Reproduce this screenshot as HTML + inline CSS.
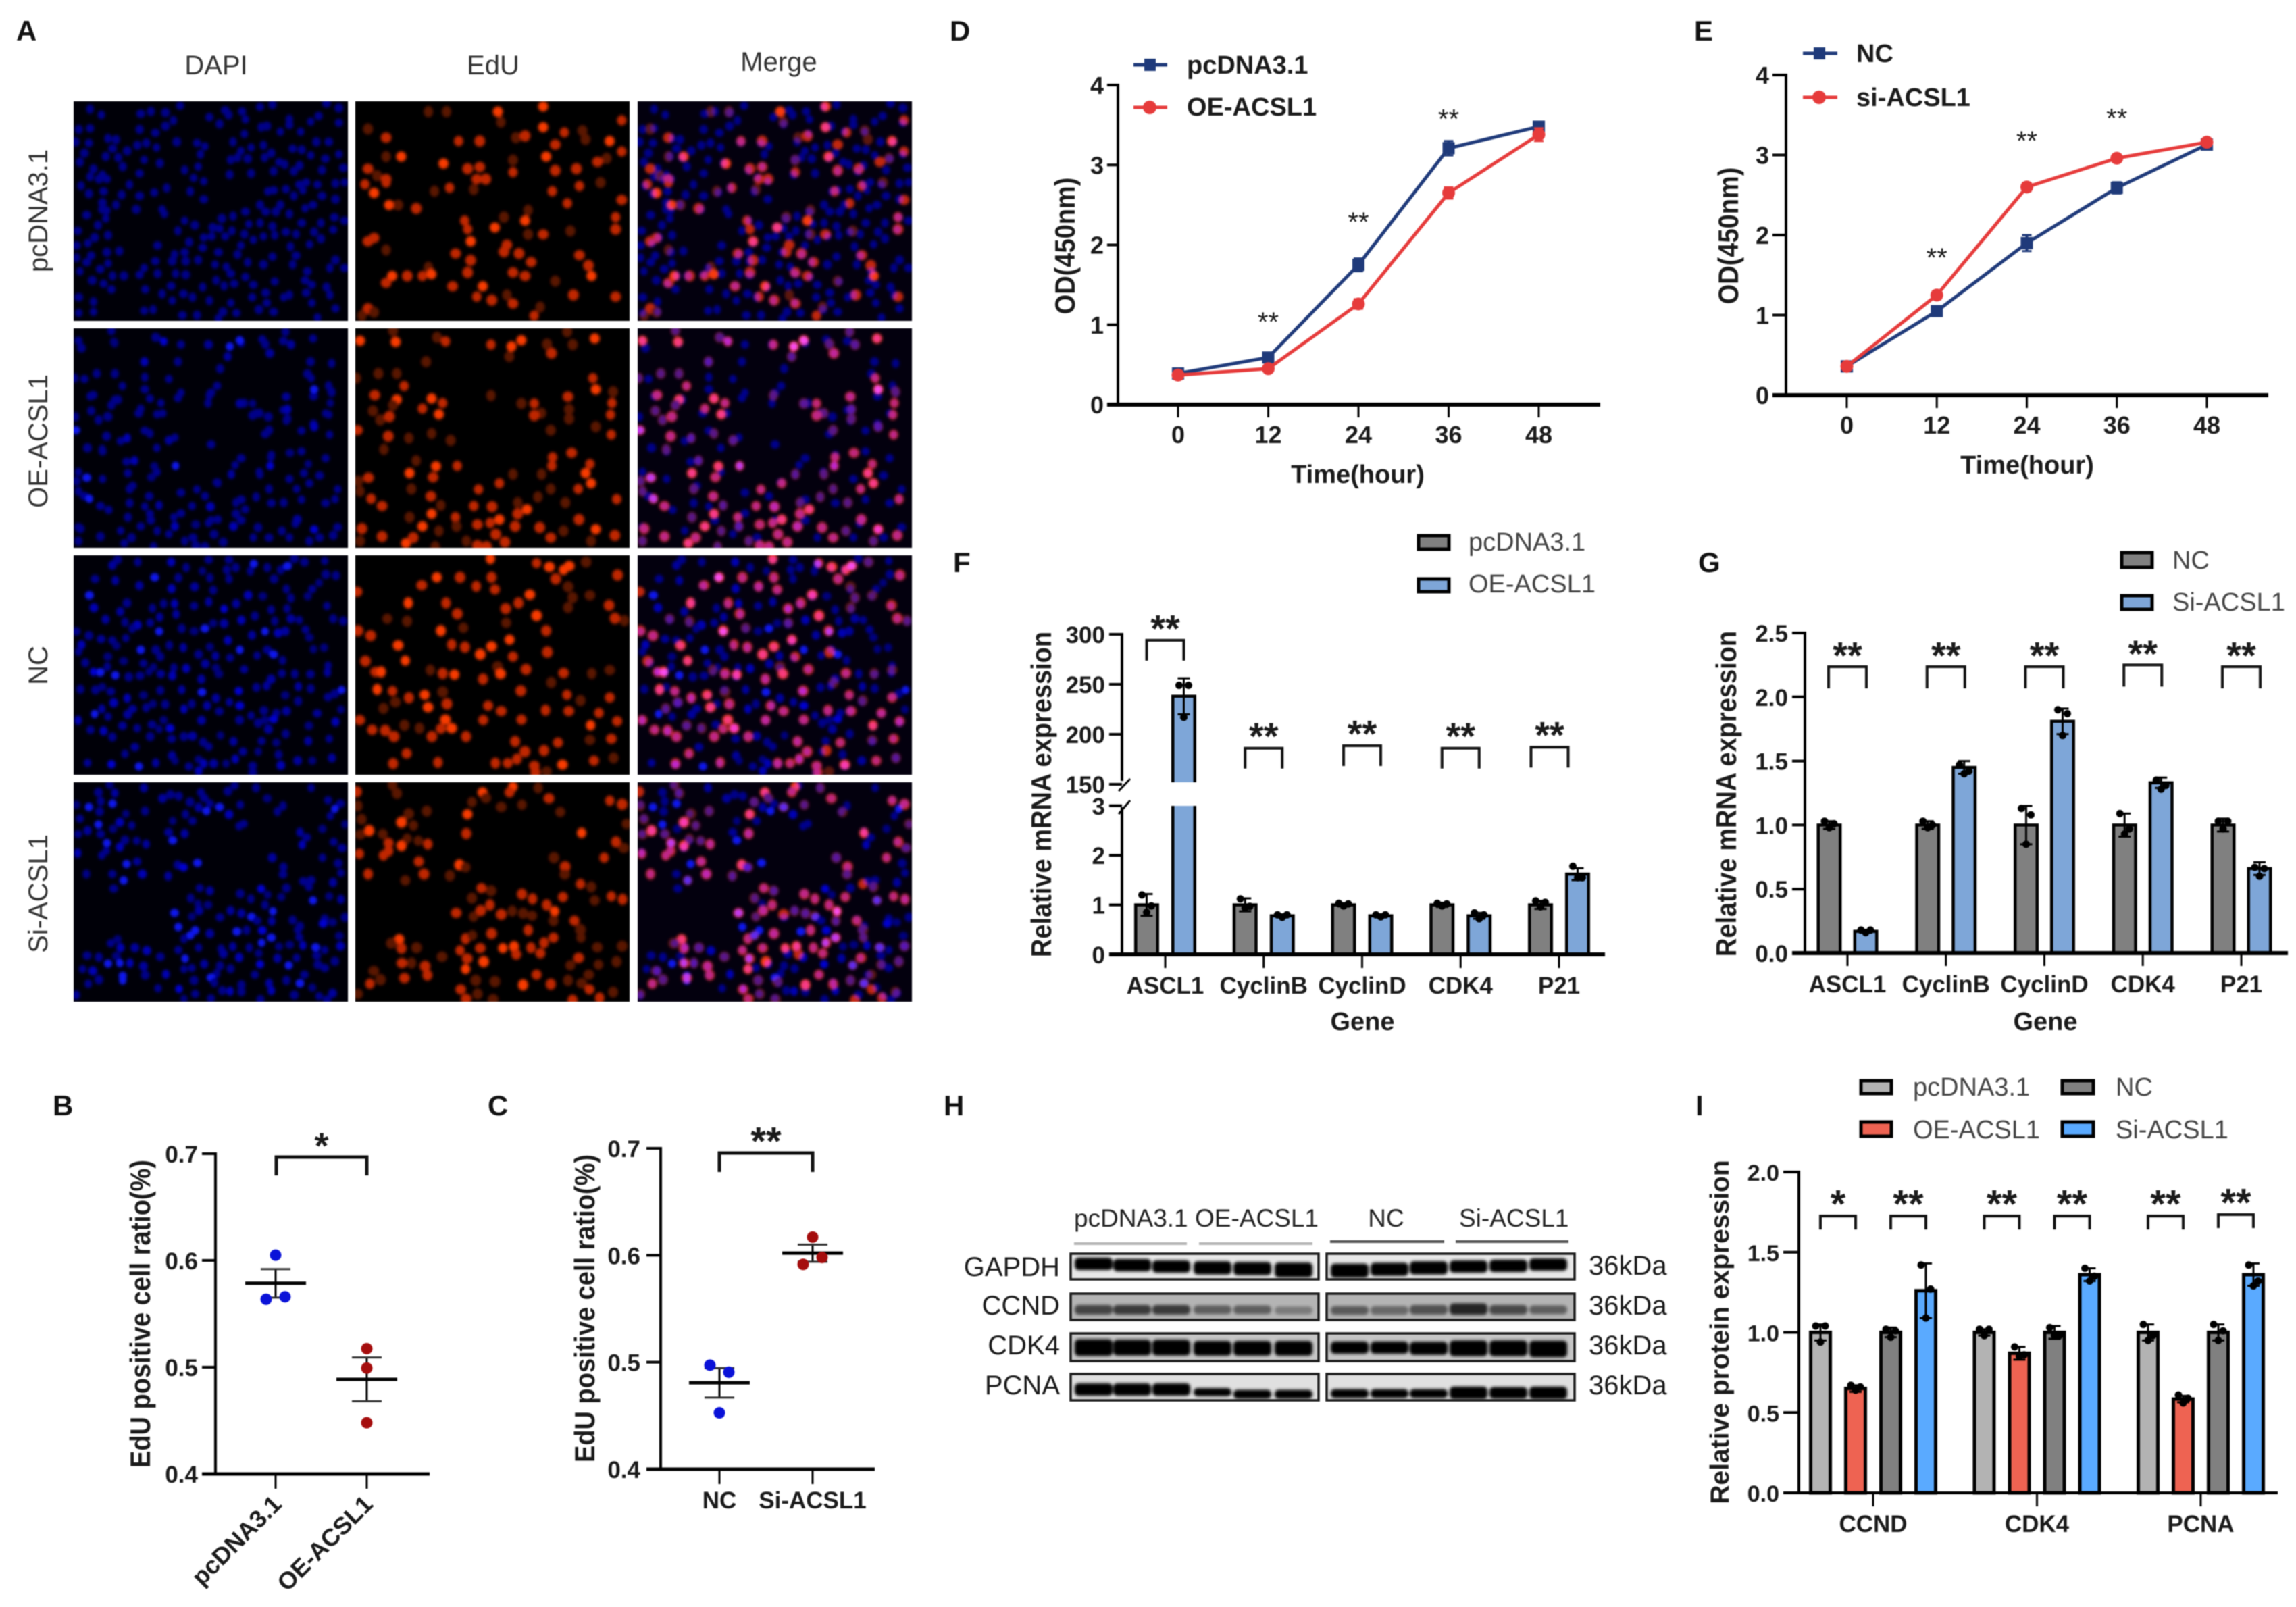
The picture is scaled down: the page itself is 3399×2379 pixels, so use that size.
<!DOCTYPE html>
<html lang="en">
<head>
<meta charset="utf-8">
<title>ACSL1 proliferation figure</title>
<style>
html,body{margin:0;padding:0;background:#fff;}
body{width:3399px;height:2379px;overflow:hidden;position:relative;}
svg{font-family:"Liberation Sans",sans-serif;}
#figure{position:absolute;left:0;top:0;filter:blur(0.9px);}
.letter{font-size:42px;font-weight:700;fill:#111;}
.head{font-size:40px;fill:#333;text-anchor:middle;}
.rowlab{font-size:40px;fill:#333;text-anchor:middle;}
.ytitle{font-size:38px;font-weight:700;fill:#1a1a1a;text-anchor:middle;}
.xtitle{font-size:38px;font-weight:700;fill:#1a1a1a;text-anchor:middle;}
.legb{font-size:38px;font-weight:700;fill:#1a1a1a;}
.legr{font-size:38px;fill:#444;}
.blot{font-size:40px;fill:#222;}
.blothead{font-size:37px;fill:#222;}
</style>
</head>
<body>
<svg id="figure" width="3399" height="2379" viewBox="0 0 3399 2379" xmlns="http://www.w3.org/2000/svg">
<defs>
<filter id="soft" x="-5%" y="-5%" width="110%" height="110%"><feGaussianBlur stdDeviation="2"/></filter>
<filter id="bandblur" x="-20%" y="-60%" width="140%" height="220%"><feGaussianBlur stdDeviation="2.2"/></filter>
</defs>
<rect width="3399" height="2379" fill="#fff"/>

<text class="letter" x="24" y="60">A</text>
<text class="letter" x="78" y="1651">B</text>
<text class="letter" x="722" y="1651">C</text>
<text class="letter" x="1406" y="60">D</text>
<text class="letter" x="2508" y="60">E</text>
<text class="letter" x="1411" y="847">F</text>
<text class="letter" x="2514" y="847">G</text>
<text class="letter" x="1397" y="1651">H</text>
<text class="letter" x="2510" y="1651">I</text>

<text class="head" x="320" y="110">DAPI</text>
<text class="head" x="730" y="110">EdU</text>
<text class="head" x="1153" y="105">Merge</text>
<text class="rowlab" transform="translate(70,312) rotate(-90)">pcDNA3.1</text>
<text class="rowlab" transform="translate(70,653) rotate(-90)">OE-ACSL1</text>
<text class="rowlab" transform="translate(70,985) rotate(-90)">NC</text>
<text class="rowlab" transform="translate(70,1323) rotate(-90)">Si-ACSL1</text>
<g id="micrographs"></g>

<!-- Panel titles -->
<text class="ytitle" transform="translate(222,1945) rotate(-90) scale(1,1.1)">EdU positive cell ratio(%)</text>
<text class="ytitle" transform="translate(880,1937) rotate(-90) scale(1,1.1)">EdU positive cell ratio(%)</text>
<text class="ytitle" transform="translate(1591,364) rotate(-90) scale(1,1.1)">OD(450nm)</text>
<text class="xtitle" x="2010" y="715">Time(hour)</text>
<text class="ytitle" transform="translate(2573,349) rotate(-90) scale(1,1.1)">OD(450nm)</text>
<text class="xtitle" x="3001" y="701">Time(hour)</text>
<text class="ytitle" transform="translate(1556,1176) rotate(-90) scale(1,1.1)">Relative mRNA expression</text>
<text class="xtitle" x="2017" y="1525">Gene</text>
<text class="ytitle" transform="translate(2570,1175) rotate(-90) scale(1,1.1)">Relative mRNA expression</text>
<text class="xtitle" x="3028" y="1525">Gene</text>
<text class="ytitle" style="font-size:39px" transform="translate(2559,1972) rotate(-90)">Relative protein expression</text>

<!-- Legend D -->
<g>
<line x1="1678" y1="96" x2="1728" y2="96" stroke="#1f3a7a" stroke-width="5"/>
<rect x="1694" y="87" width="17" height="18" fill="#1f3a7a"/>
<text class="legb" x="1757" y="109">pcDNA3.1</text>
<line x1="1678" y1="159" x2="1728" y2="159" stroke="#e63b3b" stroke-width="5"/>
<circle cx="1702" cy="159" r="10" fill="#e63b3b"/>
<text class="legb" x="1757" y="171">OE-ACSL1</text>
</g>
<!-- Legend E -->
<g>
<line x1="2669" y1="79" x2="2720" y2="79" stroke="#1f3a7a" stroke-width="5"/>
<rect x="2685" y="70" width="17" height="18" fill="#1f3a7a"/>
<text class="legb" x="2748" y="92">NC</text>
<line x1="2669" y1="144" x2="2720" y2="144" stroke="#e63b3b" stroke-width="5"/>
<circle cx="2693" cy="144" r="10" fill="#e63b3b"/>
<text class="legb" x="2748" y="157">si-ACSL1</text>
</g>
<!-- Legend F -->
<g>
<rect x="2100" y="793" width="45" height="20" fill="#808080" stroke="#000" stroke-width="5"/>
<text class="legr" x="2174" y="815">pcDNA3.1</text>
<rect x="2100" y="857" width="45" height="19" fill="#7ea6d8" stroke="#000" stroke-width="5"/>
<text class="legr" x="2174" y="877">OE-ACSL1</text>
</g>
<!-- Legend G -->
<g>
<rect x="3141" y="818" width="45" height="22" fill="#808080" stroke="#000" stroke-width="5"/>
<text class="legr" x="3216" y="842">NC</text>
<rect x="3141" y="882" width="45" height="20" fill="#7ea6d8" stroke="#000" stroke-width="5"/>
<text class="legr" x="3216" y="904">Si-ACSL1</text>
</g>
<!-- Legend I -->
<g>
<rect x="2755" y="1600" width="45" height="19" fill="#b3b3b3" stroke="#000" stroke-width="5"/>
<text class="legr" x="2832" y="1622">pcDNA3.1</text>
<rect x="2755" y="1661" width="45" height="21" fill="#ee6352" stroke="#000" stroke-width="5"/>
<text class="legr" x="2832" y="1685">OE-ACSL1</text>
<rect x="3053" y="1600" width="46" height="19" fill="#808080" stroke="#000" stroke-width="5"/>
<text class="legr" x="3132" y="1622">NC</text>
<rect x="3053" y="1661" width="46" height="21" fill="#5aaaff" stroke="#000" stroke-width="5"/>
<text class="legr" x="3132" y="1685">Si-ACSL1</text>
</g>

<!-- Panel H labels -->
<g>
<text class="blothead" x="1590" y="1816">pcDNA3.1</text>
<text class="blothead" x="1769" y="1816">OE-ACSL1</text>
<text class="blothead" x="2052" y="1816" text-anchor="middle">NC</text>
<text class="blothead" x="2160" y="1816">Si-ACSL1</text>
<line x1="1590" x2="1757" y1="1841" y2="1841" stroke="#b5b5b5" stroke-width="4"/>
<line x1="1775" x2="1943" y1="1841" y2="1841" stroke="#b5b5b5" stroke-width="4"/>
<line x1="1969" x2="2138" y1="1838" y2="1838" stroke="#555" stroke-width="4"/>
<line x1="2155" x2="2322" y1="1838" y2="1838" stroke="#555" stroke-width="4"/>
</g>
<g id="blots"></g>
<g id="charts"></g>
</svg>

<script>
/* ---------- chart data ---------- */
const panelBGroups = ['pcDNA3.1', 'OE-ACSL1'];
const panelBPoints = [[0.605, 0.5637, 0.566], [0.5174, 0.4992, 0.448]];
const panelBMeans = [0.5786, 0.4886];
const panelBSem = [0.0133, 0.0205];
const panelBTicks = [0.4, 0.5, 0.6, 0.7];
const panelBTickLabels = ['0.4', '0.5', '0.6', '0.7'];

const panelCGroups = ['NC', 'Si-ACSL1'];
const panelCPoints = [[0.4973, 0.4907, 0.4527], [0.617, 0.5915, 0.598]];
const panelCMeans = [0.4808, 0.602];
const panelCSem = [0.0138, 0.008];
const panelCTicks = [0.4, 0.5, 0.6, 0.7];
const panelCTickLabels = ['0.4', '0.5', '0.6', '0.7'];

const panelDHours = [0, 12, 24, 36, 48];
const panelDTicks = [0, 1, 2, 3, 4];
const panelDControl = [0.39, 0.59, 1.75, 3.21, 3.48];
const panelDTreated = [0.37, 0.45, 1.26, 2.65, 3.38];
const panelDControlErr = [0.06, 0.06, 0.08, 0.09, 0.06];
const panelDTreatedErr = [0.05, 0.04, 0.06, 0.07, 0.08];
const panelDStarHours = [12, 24, 36];
const panelDStarLevels = [1.12, 2.37, 3.66];

const panelEHours = [0, 12, 24, 36, 48];
const panelETicks = [0, 1, 2, 3, 4];
const panelEControl = [0.36, 1.05, 1.90, 2.59, 3.13];
const panelETreated = [0.36, 1.25, 2.60, 2.96, 3.16];
const panelEControlErr = [0.04, 0.06, 0.1, 0.07, 0.05];
const panelETreatedErr = [0.04, 0.05, 0.05, 0.04, 0.04];
const panelEStarHours = [12, 24, 36];
const panelEStarLevels = [1.8, 3.26, 3.54];

const panelFGenes = ['ASCL1', 'CyclinB', 'CyclinD', 'CDK4', 'P21'];
const panelFTicksLow = [0, 1, 2, 3];
const panelFTicksHigh = [150, 200, 250, 300];
const panelFControl = [1, 1, 1, 1, 1];
const panelFTreated = [238, 0.78, 0.78, 0.78, 1.62];
const panelFControlErr = [0.22, 0.13, 0.03, 0.04, 0.08];
const panelFTreatedErr = [18, 0.03, 0.03, 0.06, 0.12];
const panelFControlDots = [[1.2, 0.98, 0.85], [1.12, 0.97, 0.94], [1.03, 1.02, 0.98], [1.03, 1.02, 0.98], [1.08, 1.05, 0.96]];
const panelFTreatedDots = [[249, 249, 217], [0.8, 0.8, 0.75], [0.8, 0.8, 0.76], [0.84, 0.8, 0.72], [1.78, 1.55, 1.55]];
const panelFBracketLevels = [294, 186, 188.5, 186, 187];

const panelGGenes = ['ASCL1', 'CyclinB', 'CyclinD', 'CDK4', 'P21'];
const panelGTicks = [0, 0.5, 1, 1.5, 2, 2.5];
const panelGTickLabels = ['0.0', '0.5', '1.0', '1.5', '2.0', '2.5'];
const panelGControl = [1, 1, 1, 1, 1];
const panelGTreated = [0.17, 1.45, 1.81, 1.33, 0.66];
const panelGControlErr = [0.03, 0.03, 0.15, 0.09, 0.05];
const panelGTreatedErr = [0.01, 0.05, 0.1, 0.04, 0.05];
const panelGControlDots = [[1.03, 1.01, 0.98], [1.03, 1.0, 0.98], [1.13, 1.08, 0.85], [1.09, 0.97, 0.93], [1.03, 1.03, 0.97]];
const panelGTreatedDots = [[0.18, 0.18, 0.16], [1.47, 1.42, 1.4], [1.9, 1.87, 1.7], [1.35, 1.31, 1.28], [0.67, 0.66, 0.6]];
const panelGBracketLevels = [2.236, 2.236, 2.236, 2.25, 2.236];

const panelIProteins = ['CCND', 'CDK4', 'PCNA'];
const panelITicks = [0, 0.5, 1, 1.5, 2];
const panelITickLabels = ['0.0', '0.5', '1.0', '1.5', '2.0'];
const panelIControlA = [1, 1, 1];
const panelITreatedA = [0.65, 0.87, 0.585];
const panelIControlB = [1, 1, 1];
const panelITreatedB = [1.26, 1.36, 1.36];
const panelIControlAErr = [0.05, 0.02, 0.05];
const panelITreatedAErr = [0.02, 0.04, 0.02];
const panelIControlBErr = [0.03, 0.04, 0.05];
const panelITreatedBErr = [0.17, 0.04, 0.07];
const panelIControlADots = [[1.04, 1.04, 0.94], [1.02, 1.02, 0.98], [1.05, 0.98, 0.95]];
const panelITreatedADots = [[0.67, 0.66, 0.64], [0.91, 0.86, 0.85], [0.61, 0.59, 0.56]];
const panelIControlBDots = [[1.02, 1.01, 0.97], [1.03, 0.98, 0.98], [1.05, 1.01, 0.95]];
const panelITreatedBDots = [[1.42, 1.27, 1.09], [1.4, 1.35, 1.32], [1.42, 1.32, 1.29]];
const panelIBracketLevels = [1.726, 1.726, 1.726, 1.726, 1.726, 1.735];
const panelIStars = ['*', '**', '**', '**', '**', '**'];

const row1Red = "710,325 740,325 825,325 830,355 900,310 1030,350 610,375 640,400 760,410 795,410 855,400 870,395 900,370 935,385 965,380 970,405 1010,410 920,420 665,455 640,455 850,465 905,455 1030,440 1005,460 990,470 735,475 775,490 795,485 790,520 805,520 850,500 920,495 955,490 995,530 610,490 625,510 640,520 605,535 620,560 640,530 745,545 720,555 785,550 915,555 940,590 960,540 1030,580 645,595 660,595 690,605 875,610 835,630 770,640 870,640 820,660 775,665 875,680 900,680 945,670 1020,630 1020,665 620,690 610,700 780,700 840,710 835,730 860,735 880,760 960,740 755,735 640,725 780,755 850,790 870,800 980,800 975,770 650,800 675,800 710,775 715,795 700,800 640,820 775,790 750,830 800,830 790,860 815,870 840,855 850,880 895,890 885,915 920,815 1020,860 950,855 610,895 620,905 600,915";
const row1Blue = "100,65 150,90 325,85 370,75 435,80 470,115 500,50 630,100 675,130 700,70 715,90 775,75 790,110 855,55 910,45 1150,40 1205,60 985,110 1115,95 1080,120 1205,125 50,155 100,150 320,155 435,140 860,145 885,140 785,175 945,165 985,135 1035,165 390,170 215,200 95,215 35,210 180,195 485,210 575,215 610,230 735,210 350,215 310,225 395,235 1160,210 1105,210 200,240 265,250 75,260 590,265 770,250 815,235 870,225 1000,240 1040,245 755,280 225,280 170,275 340,290 725,290 800,285 875,280 905,260 1145,285 1205,265 1080,270 55,300 410,305 245,320 940,300 965,310 1030,315 1005,340 580,320 520,335 720,355 815,350 915,340 1130,335 115,330 1225,325 320,350 560,370 605,385 100,365 140,375 175,375 155,355 60,405 275,400 440,415 1030,400 1060,390 1190,395 1230,390 160,430 95,440 240,445 320,450 385,435 545,430 890,430 915,425 970,420 1045,425 1110,400 605,465 1005,450 1130,450 1190,465 155,480 215,490 855,490 945,490 1090,490 1055,505 155,510 305,510 420,510 430,530 175,515 170,550 880,520 925,520 985,530 85,535 790,520 735,540 685,550 520,560 1185,545 565,580 1040,570 1125,570 1230,560 855,570 805,575 645,590 490,605 910,585 135,580 45,605 1180,600 675,595 730,605 970,610 1015,620 1095,610 605,635 640,630 700,630 785,620 870,630 920,625 180,625 120,635 90,660 40,670 540,655 825,645 1075,665 1125,640 600,680 770,670 400,670 990,675 230,695 175,700 520,700 475,710 670,700 755,710 910,720 1015,715 105,715 40,725 85,745 180,750 525,740 390,740 465,740 580,735 800,745 655,755 870,755 1000,755 1190,735 1165,770 1230,770 55,785 145,775 340,770 705,765 200,805 250,805 320,800 400,795 480,795 525,800 725,795 790,810 1065,785 110,825 160,840 660,825 920,830 1055,825 1150,855 195,865 345,865 460,850 600,855 695,850 740,840 825,845 1085,845 880,880 515,885 985,890 960,900 420,885 1060,880 1165,890 50,900 465,915 555,900 630,915 725,925 820,900 885,925 115,920 1085,925 340,960 380,955 115,965 50,970 510,980 575,980 690,965 750,970 915,965 1110,990 1190,950 850,955 670,995";
const row2Red = "115,60 122,110 235,90 258,108 382,122 438,130 465,103 432,175 547,160 535,120 605,122 590,65 665,95 25,105 205,198 75,250 125,250 145,305 15,270 660,270 668,320 715,330 65,345 125,365 115,390 60,415 80,455 105,440 220,360 250,380 195,405 240,430 382,347 465,382 500,382 520,425 500,435 592,352 595,408 595,450 712,380 708,432 668,485 545,500 710,520 18,500 102,527 158,535 220,515 272,545 90,585 602,600 550,620 548,658 652,650 640,690 655,735 178,635 232,660 290,658 160,690 224,708 442,695 520,695 20,725 48,710 405,735 165,760 348,762 545,760 510,795 620,760 25,770 55,803 218,792 245,832 85,835 335,835 385,838 455,820 480,850 585,820 725,805 220,870 160,885 285,885 455,870 622,895 405,895 288,925 345,917 380,910 448,925 195,925 515,930 580,945 668,938 30,935 240,945 395,960 85,970 150,1000 170,975 545,975 720,965 25,990 315,990 345,1010 420,995 655,990 230,1015 370,1015";
const row2Blue = "260,980 300,1000 345,1000 400,995 435,985 470,990 515,1050 550,1055 135,1010 190,995 140,1100 190,1085 240,1095 295,1050 365,1070 510,1085 545,1120 125,1210 150,1150 195,1160 240,1130 280,1100 300,1140 295,1155 350,1140 345,1170 360,1120 405,1170 425,1200 445,1210 470,1190 475,1220 520,1150 550,1140 540,1200 520,1230 180,1210 230,1200 270,1200 290,1270 240,1250 145,1300 170,1310 200,1280 400,1330 450,1320 500,1310 540,1330 350,1290 390,1350 430,1370 360,1400 480,1390 530,1380 170,1390 220,1410 300,1430 260,1370 215,1460 140,1440 180,1480 250,1510 300,1490 340,1440 400,1450 450,1460 500,1450 540,1460 560,1420 130,1530 200,1540 280,1550 350,1510 420,1560 490,1520 530,1560 560,1530 480,1560 400,1510 320,1560 240,1470 130,1370 210,1340 440,1260 500,1250 260,1300";
const row3Red = "600,15,3 805,35,2 862,52,3 925,65,3 950,48,3 890,105,2 1025,30,1 1165,88,2 362,98,3 465,98,2 295,133,2 537,138,2 605,98,2 620,152,2 8,162,2 775,175,3 725,212,2 668,237,2 1042,178,1 945,140,1 965,188,1 945,232,1 1127,222,2 1153,280,2 1195,290,1 235,212,3 403,212,2 453,260,2 142,282,1 230,293,1 805,268,3 670,300,1 380,335,3 480,322,1 848,335,2 12,335,2 68,357,2 685,375,3 190,400,3 428,397,2 487,408,2 605,405,3 555,440,3 853,430,2 700,450,2 222,468,3 45,470,2 90,518,2 115,518,3 333,510,1 388,525,2 440,530,3 758,507,2 632,495,1 645,527,3 567,550,2 925,523,2 1130,510,1 1050,525,1 870,565,1 97,596,3 165,603,2 735,602,2 238,633,2 308,620,3 388,607,1 940,620,2 1000,645,1 1130,632,2 178,652,1 407,660,2 323,675,3 125,680,1 590,668,2 648,692,2 845,688,2 948,692,2 1082,700,2 20,732,2 400,730,3 568,732,2 738,730,2 1045,755,3 1163,737,2 218,755,1 75,775,2 133,778,2 285,768,1 380,770,2 428,768,3 172,805,2 340,805,2 492,805,2 710,827,2 900,832,2 1042,820,1 1137,815,2 838,867,2 753,872,2 228,880,2 168,925,2 367,920,2 622,923,2 677,923,2 718,905,2 795,935,2 920,930,3 1060,912,2 1147,900,1 800,965,2 850,960,1";
const row3Blue = "195,20 285,30 172,45 433,30 500,55 572,70 600,20 690,20 680,65 720,55 800,38 860,55 785,70 920,65 950,48 1025,30 980,15 1120,85 1165,90 1115,25 95,105 185,112 360,98 465,100 605,100 690,105 890,105 292,135 435,148 537,140 620,155 70,178 775,178 840,182 945,150 1060,150 1040,182 1090,122 965,190 237,212 400,215 448,215 535,225 600,207 722,215 90,233 350,235 668,238 877,242 948,237 1125,225 207,250 455,262 382,275 142,285 745,288 805,270 965,282 1002,288 893,292 1153,282 1197,292 228,297 283,310 260,325 340,300 620,302 668,303 480,325 535,337 583,325 380,338 12,338 850,338 792,355 908,345 940,337 1030,330 68,357 122,372 172,378 232,368 1047,365 685,378 35,398 190,402 22,428 425,400 487,410 605,407 298,420 365,420 385,450 555,440 630,447 738,420 695,455 815,445 860,420 888,440 1065,417 1112,410 152,450 222,470 52,477 928,467 310,480 585,482 150,495 118,520 88,518 1130,490 355,497 335,517 445,500 500,503 632,500 757,507 185,533 245,540 295,535 387,527 438,535 645,527 925,525 982,527 1052,528 1127,520 567,550 877,550 30,595 97,598 127,585 165,605 385,600 480,597 570,608 733,603 812,587 857,580 998,583 1053,592 1190,598 310,622 238,635 940,622 632,635 1130,630 1160,615 178,655 352,660 407,662 525,660 692,652 738,668 997,648 322,677 490,683 593,668 125,682 262,682 647,693 845,690 945,692 1082,702 1187,685 93,705 240,707 153,717 400,732 788,712 900,700 20,733 217,757 348,752 568,733 737,732 850,732 888,728 820,745 1045,757 1163,740 75,775 133,780 282,768 380,772 428,768 865,772 652,800 172,807 340,805 435,815 490,805 528,803 942,793 710,827 575,830 600,850 835,825 900,832 1042,825 1135,815 272,852 820,872 752,872 228,882 437,890 910,885 450,912 62,922 168,928 290,938 365,922 555,907 578,925 512,938 622,925 677,925 718,905 795,935 920,933 995,912 1060,912 1147,900 555,958 795,965";
const row4Red = "165,12,1 7,42,2 185,50,1 565,45,3 700,20,3 685,45,2 812,25,1 580,70,1 860,72,2 12,105,1 518,88,1 648,110,1 1130,82,2 1185,98,2 740,100,1 910,132,1 237,140,1 317,128,1 498,142,3 28,165,1 205,178,3 258,192,1 1205,185,1 62,215,3 122,230,1 22,232,1 493,228,2 1005,225,3 148,270,2 205,282,3 230,250,1 280,260,1 322,275,2 1158,265,2 1192,292,1 18,318,2 148,305,2 125,325,2 882,335,1 1105,335,2 282,352,2 462,367,3 490,378,1 932,375,2 57,408,2 305,408,2 420,415,1 930,410,1 222,436,1 1000,452,2 1048,465,1 560,470,2 603,482,1 740,497,2 787,518,2 922,510,2 518,515,1 1137,507,2 1187,520,2 1063,525,1 598,545,2 850,545,2 885,573,3 557,570,2 448,580,2 648,587,2 697,572,1 745,582,1 785,593,1 525,597,1 880,615,1 973,615,2 768,657,2 1000,655,1 605,672,2 195,697,3 490,695,2 520,680,1 880,690,2 1002,690,1 838,713,2 160,715,1 205,738,2 272,735,1 465,747,2 555,737,2 655,737,3 705,730,3 780,735,2 822,760,2 1075,733,1 1185,728,1 715,765,2 385,775,1 992,780,2 497,783,2 207,803,2 250,803,1 570,797,3 1080,810,1 1160,797,1 310,817,2 955,813,1 490,830,3 82,838,1 1037,855,1 218,870,2 320,857,2 805,855,2 112,877,1 535,880,1 620,885,1 65,895,2 745,900,3 868,897,2 945,880,1 1005,893,1 1040,920,2 468,920,2 543,940,1 1145,932,1 12,940,1 492,962,2 1085,958,2 965,968,2 612,965,1";
const row4Blue = "160,12 312,25 110,45 183,48 395,72 430,55 467,62 565,45 580,70 685,40 715,15 810,25 1055,25 860,72 120,85 173,95 517,88 605,95 648,110 555,112 590,128 740,100 930,105 1130,80 1185,95 1160,118 68,110 12,100 115,130 232,140 317,128 497,142 690,143 905,130 1140,150 28,162 440,172 205,178 528,172 110,188 258,192 1205,187 735,195 755,185 175,207 62,215 20,230 422,222 120,230 493,228 1005,222 1105,207 1035,245 440,258 228,257 148,270 280,260 322,275 205,288 1015,278 1155,265 1192,292 18,315 145,305 125,325 882,335 1105,335 235,363 282,352 462,367 488,378 550,358 1175,360 932,377 57,408 172,408 305,408 420,417 1187,403 930,410 222,436 1020,440 1055,435 1152,445 178,472 560,470 605,482 945,470 1045,465 833,473 862,500 740,495 787,518 520,515 922,510 1135,507 1187,520 1063,525 552,540 597,545 850,545 697,570 557,570 448,580 745,582 885,573 525,597 650,600 790,598 815,615 1115,605 1205,600 973,612 1108,628 1150,622 880,617 465,643 1005,640 540,658 768,657 725,663 838,658 605,672 518,680 490,695 995,655 878,690 1180,682 1002,688 195,697 165,715 835,713 208,735 272,735 325,748 465,745 555,735 655,740 707,730 780,735 912,730 960,722 1018,725 1075,733 1185,728 60,770 112,777 190,772 385,775 822,760 1115,745 495,783 735,778 665,762 990,780 1080,770 905,782 205,803 250,803 153,805 580,807 1160,795 310,817 650,815 828,808 955,813 1085,810 40,830 85,838 490,830 525,825 697,828 1115,825 218,860 318,857 410,853 805,855 635,850 1025,855 112,877 535,880 610,868 625,890 945,880 65,895 745,900 868,893 1005,893 218,880 375,915 468,918 878,925 660,925 695,928 745,930 1060,912 980,945 540,940 1090,950 1150,937 490,962 610,960 830,965 12,945 1125,965";

/* ---------- helpers ---------- */
const NS = 'http://www.w3.org/2000/svg';
function mk(tag, attrs, parent) {
  const n = document.createElementNS(NS, tag);
  for (const k in attrs) n.setAttribute(k, attrs[k]);
  parent.appendChild(n);
  return n;
}
function addGroup(parent, name) {
  const g = mk('g', {}, parent);
  
  
  return g;
}
function addLine(parent, name, x1, y1, x2, y2, w, color) {
  const l = mk('line', {x1: x1, y1: y1, x2: x2, y2: y2, stroke: color || '#000', 'stroke-width': w}, parent);
  
  
  return l;
}
function addText(parent, name, str, x, y, size, anchor, weight, extra) {
  const t = mk('text', {x: x, y: y, 'font-size': size, 'text-anchor': anchor || 'middle', 'font-weight': weight || 700, fill: '#1a1a1a'}, parent);
  if (extra) t.setAttribute('transform', extra);
  
  
  t.textContent = str;
  return t;
}
function linear(d0, d1, r0, r1) { return v => r0 + (v - d0) / (d1 - d0) * (r1 - r0); }
function addStars(parent, str, cx, cy, size, weight) {
  return addText(parent, 'significance-stars', str, cx, cy + size * 0.58, size, 'middle', weight || 700);
}
function addBracket(parent, x1, x2, top, leg, w) {
  const p = mk('path', {d: 'M' + x1 + ' ' + (top + leg) + 'V' + top + 'H' + x2 + 'V' + (top + leg), fill: 'none', stroke: '#111', 'stroke-width': w}, parent);
  
  
}
function drawYTicks(g, axisX, tickLeft, labelRight, yFn, ticks, labels, size, base) {
  ticks.forEach((v, i) => {
    addLine(g, 'y-axis-tick', tickLeft, yFn(v), axisX, yFn(v), 4);
    addText(g, 'y-tick-label', labels[i], labelRight, yFn(v) + base, size, 'end');
  });
}

/* ---------- scatter panels B, C ---------- */
function drawScatter(g, o) {
  const y = linear(0.4, 0.7, o.y0, o.y1);
  addLine(g, 'y-axis', o.axisX, y(0.7) - 2, o.axisX, y(0.4) + 2, 4);
  addLine(g, 'x-axis', o.tickLeft, y(0.4), o.axisEnd, y(0.4), 5);
  drawYTicks(g, o.axisX, o.tickLeft, o.labelRight, y, o.ticks, o.tickLabels, 35, 13);
  o.groups.forEach((name, i) => {
    const x = o.xs0 + i * o.xStep;
    addLine(g, 'x-axis-tick', x, y(0.4), x, y(0.4) + 22, 3);
    if (o.rotate) addText(g, 'x-tick-label', name, x + 11, o.labelY, 36, 'end', 700, 'rotate(-45 ' + (x + 11) + ' ' + o.labelY + ')');
    else addText(g, 'x-tick-label', name, x, o.labelY, 35);
    addLine(g, 'mean-line', x - 45, y(o.means[i]), x + 45, y(o.means[i]), 5);
    addLine(g, 'sem-whisker', x, y(o.means[i] + o.sem[i]), x, y(o.means[i] - o.sem[i]), 3);
    addLine(g, 'sem-cap-top', x - 22, y(o.means[i] + o.sem[i]), x + 22, y(o.means[i] + o.sem[i]), 3, '#333');
    addLine(g, 'sem-cap-bottom', x - 22, y(o.means[i] - o.sem[i]), x + 22, y(o.means[i] - o.sem[i]), 3, '#333');
    const pts = o.points[i];
    pts.forEach((v, j) => {
      const near = pts.findIndex((w, k) => k !== j && Math.abs(w - v) < 0.01);
      const dx = near < 0 ? 0 : (j < near ? -14 : 14);
      const c = mk('circle', {cx: x + dx, cy: y(v), r: 8.5, fill: o.colors[i]}, g);
      
      
    });
  });
}

/* ---------- line panels D, E ---------- */
function drawSeries(g, x, y, vals, errs, color, isSquare) {
  const d = vals.map((v, i) => (i ? 'L' : 'M') + x(i) + ' ' + y(v)).join('');
  const p = mk('path', {d: d, fill: 'none', stroke: color, 'stroke-width': 5, 'stroke-linejoin': 'round'}, g);
  
  
  vals.forEach((v, i) => {
    addLine(g, 'error-bar', x(i), y(v + errs[i]), x(i), y(v - errs[i]), 4, color);
    addLine(g, 'error-cap', x(i) - 7, y(v + errs[i]), x(i) + 7, y(v + errs[i]), 3, color);
    addLine(g, 'error-cap', x(i) - 7, y(v - errs[i]), x(i) + 7, y(v - errs[i]), 3, color);
    let m;
    if (isSquare) m = mk('rect', {x: x(i) - 9, y: y(v) - 9, width: 18, height: 18, fill: color}, g);
    else m = mk('circle', {cx: x(i), cy: y(v), r: 9.5, fill: color}, g);
    
    
  });
}
function drawLinePanel(g, o) {
  const y = linear(0, 4, o.y0, o.y4);
  const xh = linear(0, 48, o.x0, o.x48);
  addLine(g, 'y-axis', o.axisX, o.y4 - 2, o.axisX, o.y0, 4);
  addLine(g, 'x-axis', o.tickLeft, o.y0, o.axisEnd, o.y0, 6);
  drawYTicks(g, o.axisX, o.tickLeft, o.labelRight, y, o.ticks, o.ticks.map(String), 36, 13);
  o.hours.forEach(h => {
    addLine(g, 'x-axis-tick', xh(h), o.y0, xh(h), o.y0 + 19, 3);
    addText(g, 'x-tick-label', String(h), xh(h), o.labelY, 36);
  });
  const xi = i => xh(o.hours[i]);
  drawSeries(g, xi, y, o.control, o.controlErr, '#1f3a7a', true);
  drawSeries(g, xi, y, o.treated, o.treatedErr, '#e63b3b', false);
  o.starHours.forEach((h, i) => addStars(g, '**', xh(h), y(o.starLevels[i]), 40, 400));
}

/* ---------- bar panels F, G, I ---------- */
function drawBarSeries(g, o, cx, vals, errs, dots, fill) {
  vals.forEach((v, i) => {
    const x = cx(i), top = o.y(v), base = o.y(0), hw = o.barW / 2 - o.sw / 2;
    const b = mk('rect', {x: x - hw, y: top, width: hw * 2, height: base - top, fill: fill, stroke: '#000', 'stroke-width': o.sw}, g);
    
    
    addLine(g, 'error-bar', x, o.y(v + errs[i]), x, o.y(v - errs[i]), 3);
    addLine(g, 'error-cap', x - 9, o.y(v + errs[i]), x + 9, o.y(v + errs[i]), 3);
    addLine(g, 'error-cap', x - 9, o.y(v - errs[i]), x + 9, o.y(v - errs[i]), 3);
    [-7, 7, 0].forEach((dx, j) => {
      const c = mk('circle', {cx: x + dx, cy: o.y(dots[i][j]), r: 5.5, fill: '#000'}, g);
      
      
    });
  });
}

function buildCharts() {
  const root = document.getElementById('charts');

  const gB = addGroup(root, 'panel-b-scatter');
  drawScatter(gB, {y0: 2182, y1: 1708, axisX: 319, tickLeft: 299, axisEnd: 636, labelRight: 293, ticks: panelBTicks, tickLabels: panelBTickLabels,
    groups: panelBGroups, xs0: 408, xStep: 135, rotate: true, labelY: 2229, means: panelBMeans, sem: panelBSem, points: panelBPoints, colors: ['#0a12d8', '#a50d0d']});
  addBracket(gB, 409, 543, 1713, 27, 5);
  addStars(gB, '*', 476, 1683, 54);

  const gC = addGroup(root, 'panel-c-scatter');
  drawScatter(gC, {y0: 2175, y1: 1700, axisX: 978, tickLeft: 957, axisEnd: 1295, labelRight: 948, ticks: panelCTicks, tickLabels: panelCTickLabels,
    groups: panelCGroups, xs0: 1065, xStep: 138, rotate: false, labelY: 2233, means: panelCMeans, sem: panelCSem, points: panelCPoints, colors: ['#0a12d8', '#a50d0d']});
  addBracket(gC, 1065, 1203, 1707, 28, 5);
  addStars(gC, '**', 1134, 1676, 58);

  const gD = addGroup(root, 'panel-d-line-chart');
  drawLinePanel(gD, {y0: 599, y4: 126, x0: 1744, x48: 2278, axisX: 1655, tickLeft: 1639, axisEnd: 2369, labelRight: 1634, labelY: 656,
    ticks: panelDTicks, hours: panelDHours, control: panelDControl, treated: panelDTreated, controlErr: panelDControlErr, treatedErr: panelDTreatedErr, starHours: panelDStarHours, starLevels: panelDStarLevels});

  const gE = addGroup(root, 'panel-e-line-chart');
  drawLinePanel(gE, {y0: 585, y4: 111, x0: 2734, x48: 3267, axisX: 2644, tickLeft: 2624, axisEnd: 3358, labelRight: 2619, labelY: 642,
    ticks: panelETicks, hours: panelEHours, control: panelEControl, treated: panelETreated, controlErr: panelEControlErr, treatedErr: panelETreatedErr, starHours: panelEStarHours, starLevels: panelEStarLevels});

  /* Panel F: broken axis */
  const gF = addGroup(root, 'panel-f-bar-chart');
  const yF = v => v <= 3 ? 1413 - v * 73.4 : 1161 - (v - 150) * (1161 - 939) / 150;
  const fx = i => 1725 + i * 145.75;
  const oF = {y: yF, barW: 37, sw: 4.5};
  drawBarSeries(gF, oF, i => fx(i) - 27.5, panelFControl, panelFControlErr, panelFControlDots, '#808080');
  drawBarSeries(gF, oF, i => fx(i) + 27.5, panelFTreated, panelFTreatedErr, panelFTreatedDots, '#7ea6d8');
  const gap = mk('rect', {x: 1725, y: 1158, width: 60, height: 35, fill: '#fff'}, gF);
  
  
  addLine(gF, 'y-axis-upper', 1661, yF(300) - 2, 1661, 1156, 4);
  addLine(gF, 'y-axis-lower', 1661, 1195, 1661, 1415, 4);
  addLine(gF, 'axis-break-slash', 1656, 1171, 1673, 1153, 3);
  addLine(gF, 'axis-break-slash', 1656, 1205, 1673, 1185, 3);
  addLine(gF, 'x-axis', 1642, 1413, 2376, 1413, 6);
  drawYTicks(gF, 1661, 1642, 1636, yF, panelFTicksLow, panelFTicksLow.map(String), 35, 13);
  drawYTicks(gF, 1661, 1642, 1636, yF, panelFTicksHigh, panelFTicksHigh.map(String), 35, 13);
  panelFGenes.forEach((name, i) => {
    addLine(gF, 'x-axis-tick', fx(i), 1413, fx(i), 1433, 3);
    addText(gF, 'x-tick-label', name, fx(i), 1471, 35);
    const top = yF(panelFBracketLevels[i]);
    const shift = i === 4 ? -14 : 0;
    addBracket(gF, fx(i) - 27.5 + shift, fx(i) + 27.5 + shift, top, 30, 4);
    addStars(gF, '**', fx(i) + shift, top - 31, 56);
  });

  /* Panel G */
  const gG = addGroup(root, 'panel-g-bar-chart');
  const yG = linear(0, 2.5, 1411, 937);
  const gx = i => 2735 + i * 145.75;
  const oG = {y: yG, barW: 37, sw: 4.5};
  drawBarSeries(gG, oG, i => gx(i) - 27, panelGControl, panelGControlErr, panelGControlDots, '#808080');
  drawBarSeries(gG, oG, i => gx(i) + 27, panelGTreated, panelGTreatedErr, panelGTreatedDots, '#7ea6d8');
  addLine(gG, 'y-axis', 2672, yG(2.5) - 2, 2672, yG(0), 4);
  addLine(gG, 'x-axis', 2653, yG(0), 3387, yG(0), 6);
  drawYTicks(gG, 2672, 2653, 2647, yG, panelGTicks, panelGTickLabels, 35, 13);
  panelGGenes.forEach((name, i) => {
    addLine(gG, 'x-axis-tick', gx(i), 1411, gx(i), 1430, 3);
    addText(gG, 'x-tick-label', name, gx(i), 1469, 35);
    const top = yG(panelGBracketLevels[i]);
    addBracket(gG, gx(i) - 28, gx(i) + 28, top, 32, 4);
    addStars(gG, '**', gx(i), top - 30, 56);
  });

  /* Panel I */
  const gI = addGroup(root, 'panel-i-bar-chart');
  const yI = linear(0, 2, 2210, 1735);
  const ix = i => 2773 + i * 242.5;
  const oI = {y: yI, barW: 34, sw: 5};
  drawBarSeries(gI, oI, i => ix(i) - 78, panelIControlA, panelIControlAErr, panelIControlADots, '#b3b3b3');
  drawBarSeries(gI, oI, i => ix(i) - 26, panelITreatedA, panelITreatedAErr, panelITreatedADots, '#ee6352');
  drawBarSeries(gI, oI, i => ix(i) + 26, panelIControlB, panelIControlBErr, panelIControlBDots, '#808080');
  drawBarSeries(gI, oI, i => ix(i) + 78, panelITreatedB, panelITreatedBErr, panelITreatedBDots, '#5aaaff');
  addLine(gI, 'y-axis', 2663, yI(2) - 2, 2663, yI(0), 4);
  addLine(gI, 'x-axis', 2640, yI(0), 3372, yI(0), 4);
  drawYTicks(gI, 2663, 2640, 2634, yI, panelITicks, panelITickLabels, 34, 13);
  panelIProteins.forEach((name, i) => {
    addLine(gI, 'x-axis-tick', ix(i), 2210, ix(i), 2230, 3);
    addText(gI, 'x-tick-label', name, ix(i), 2268, 35);
    [[-78, -26], [26, 78]].forEach((pair, k) => {
      const lv = panelIBracketLevels[i * 2 + k];
      const top = yI(lv);
      addBracket(gI, ix(i) + pair[0], ix(i) + pair[1], top, 20, 4);
      addStars(gI, panelIStars[i * 2 + k], ix(i) + (pair[0] + pair[1]) / 2, top - 31, 58);
    });
  });
}

/* ---------- micrographs ---------- */
function parseCells(str, map, fallback) {
  return str.split(' ').map(s => {
    const p = s.split(',').map(Number);
    const h = (p[0] + p[1]);
    return {x: (p[0] - map[0]) * map[2] / 3, y: (p[1] - map[1]) * map[3] / 3,
            i: p.length > 2 ? p[2] : fallback[h % fallback.length], h: h};
  });
}
const redColors = ['', '#5a1402', '#c02800', '#f83a00'];
const blueColors = ['#00008c', '#0000a0', '#00007e', '#0000b4', '#000096', '#000088', '#0006d0', '#00009c', '#0c14f0', '#00008c'];
function drawCells(parent, cells, kind) {
  const g = addGroup(parent, kind + '-nuclei');
  g.setAttribute('filter', 'url(#soft)');
  cells.forEach(c => {
    const color = kind === 'red' ? redColors[c.i] : blueColors[c.h % blueColors.length];
    const base = kind === 'red' ? 7 : 5.6;
    const e = mk('ellipse', {cx: c.x, cy: c.y, rx: base + (c.h % 3) * 0.5, ry: base + 0.6 + (c.h % 2) * 0.7, fill: color}, g);
    
    
  });
  return g;
}
function buildMicrographs() {
  const root = document.getElementById('micrographs');
  const cols = [109, 526, 944];
  const rows = [150, 486, 822, 1158];
  const idMap = [0, 0, 1, 1];
  const fields = [
    {red: parseCells(row1Red, [589, 295, 1218 / 454, 975 / 635], [2, 1, 2, 1, 3, 2]), blue: parseCells(row1Blue, [27, 30, 1, 1], [1])},
    {red: parseCells(row2Red, [12, 50, 1218 / 748, 975 / 970], [2, 1, 2, 1, 3, 2]), blue: parseCells(row2Blue, [122, 953, 1218 / 455, 975 / 637], [1])},
    {red: parseCells(row3Red, idMap, [1]), blue: parseCells(row3Blue, idMap, [1])},
    {red: parseCells(row4Red, idMap, [1]), blue: parseCells(row4Blue, idMap, [1])}
  ];
  fields[1].blue = fields[1].blue.concat(fields[1].red);
  rows.forEach((ry, r) => {
    cols.forEach((cx, c) => {
      const s = mk('svg', {x: cx, y: ry, width: 406, height: 325, viewBox: '0 0 406 325'}, root);
      
      
      const wrap = addGroup(s, 'micrograph-layers');
      wrap.setAttribute('style', 'isolation:isolate');
      const bg = mk('rect', {width: 406, height: 325, fill: c === 1 ? '#000' : (c === 0 ? '#000008' : '#03000e')}, wrap);
      
      
      if (c !== 1) drawCells(wrap, fields[r].blue, 'blue');
      if (c !== 0) {
        const red = drawCells(wrap, fields[r].red, 'red');
        red.setAttribute('style', 'mix-blend-mode:screen');
      }
    });
  });
}

/* ---------- western blot ---------- */
const blotNames = ['GAPDH', 'CCND', 'CDK4', 'PCNA'];
const blotTops = [1856, 1915, 1974, 2034];
const blotBottoms = [1894, 1954, 2015, 2073];
const blotBaselines = [1889, 1946, 2005, 2064];
const blotBgs = ['#e8e8e8', '#b4b4b4', '#c6c6c6', '#e0e0e0'];
const blotBandY = [
  [1871, 1873, 1875, 1877, 1878, 1880, 1881, 1879, 1877, 1875, 1874, 1872],
  [1939, 1939, 1939, 1939, 1939, 1940, 1940, 1940, 1939, 1938, 1939, 1939],
  [1995, 1995, 1995, 1996, 1996, 1996, 1995, 1995, 1996, 1996, 1996, 1997],
  [2057, 2057, 2057, 2061, 2064, 2064, 2063, 2063, 2063, 2062, 2062, 2062]
];
const blotBandH = [
  [14, 14, 14, 15, 15, 17, 16, 15, 15, 14, 14, 14],
  [11, 11, 11, 10, 10, 9, 10, 10, 11, 13, 11, 10],
  [19, 18, 18, 17, 17, 17, 14, 14, 15, 18, 18, 19],
  [14, 14, 14, 9, 10, 10, 10, 10, 10, 14, 13, 14]
];
const blotBandOp = [
  [1, 1, 1, 1, 1, 1, 1, 1, 1, 1, 1, 1],
  [.62, .68, .68, .48, .48, .32, .5, .42, .55, .8, .6, .48],
  [1, 1, 1, 1, 1, 1, 1, 1, 1, 1, 1, 1],
  [1, 1, 1, 1, 1, 1, 1, 1, 1, 1, 1, 1]
];
const blotBandX = [1619, 1676, 1734, 1795, 1854, 1915, 1998, 2057, 2115, 2174, 2233, 2292];
function buildBlots() {
  const root = document.getElementById('blots');
  blotNames.forEach((name, r) => {
    addText(root, 'blot-label-' + name.toLowerCase(), name, 1569, blotBaselines[r], 40, 'end', 400);
    addText(root, 'blot-size-label', '36kDa', 2352, blotBaselines[r] - (r === 0 ? 2 : 0), 40, 'start', 400);
    [[1585, 1952], [1964, 2331]].forEach((seg, s) => {
      const strip = addGroup(root, 'blot-strip-' + name.toLowerCase());
      const bg = mk('rect', {x: seg[0], y: blotTops[r], width: seg[1] - seg[0], height: blotBottoms[r] - blotTops[r], fill: blotBgs[r]}, strip);
      
      
      const bands = addGroup(strip, 'blot-bands');
      bands.setAttribute('filter', 'url(#bandblur)');
      blotBandX.forEach((x, i) => {
        if ((i < 6) !== (s === 0)) return;
        const h = blotBandH[r][i] * 1.3;
        const b = mk('rect', {x: x - 28, y: blotBandY[r][i] - h / 2, width: 56, height: h, rx: 6, fill: '#050505', opacity: blotBandOp[r][i]}, bands);
        
        
      });
      const frame = mk('rect', {x: seg[0], y: blotTops[r], width: seg[1] - seg[0], height: blotBottoms[r] - blotTops[r], fill: 'none', stroke: '#1a1a1a', 'stroke-width': 3.5}, strip);
      
      
    });
  });
}

buildMicrographs();
buildBlots();
buildCharts();
</script>
</body>
</html>
